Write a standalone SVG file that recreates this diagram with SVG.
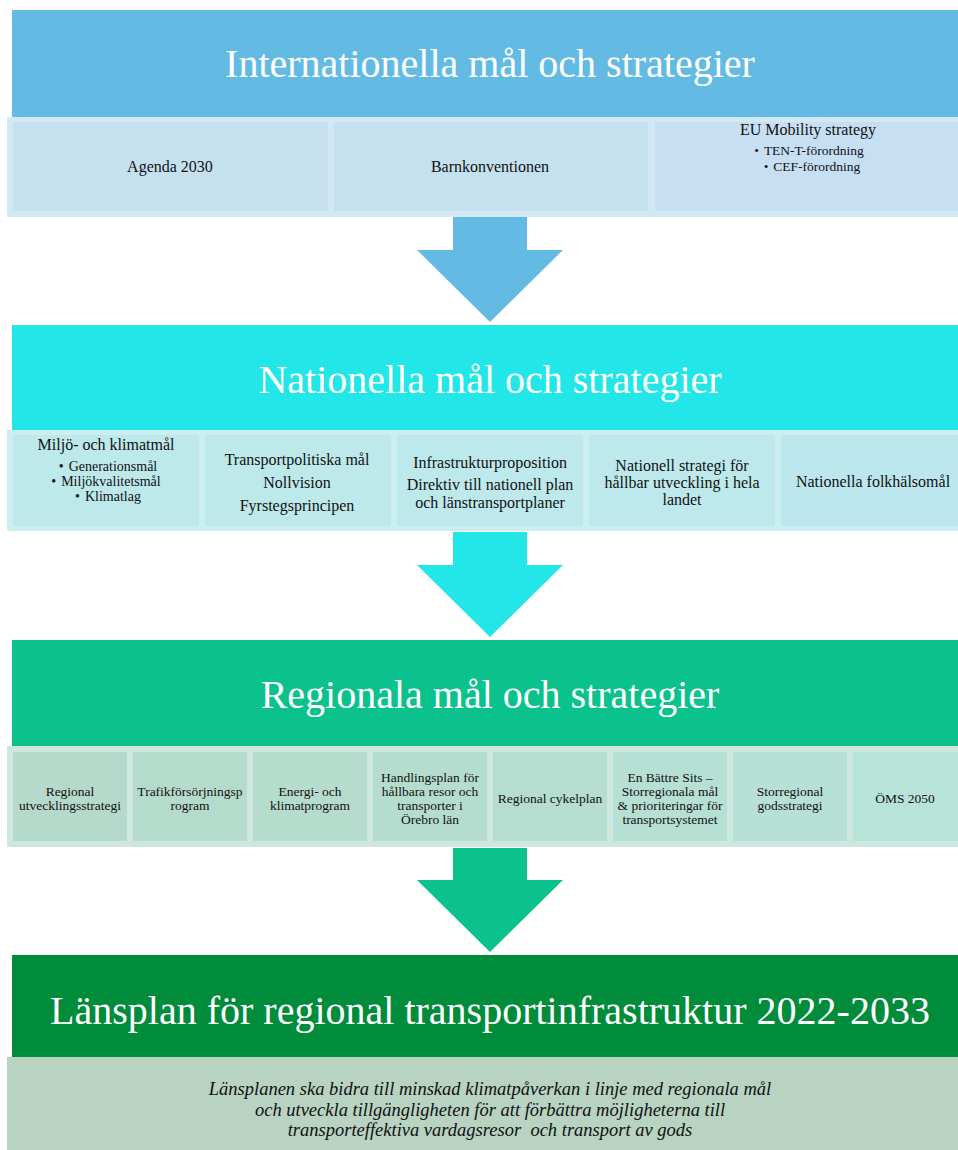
<svg xmlns="http://www.w3.org/2000/svg" width="958" height="1150" viewBox="0 0 958 1150">
<style>
  text { font-family: "Liberation Serif", "Times New Roman", serif; fill: #111; text-anchor: middle; }
  .h { fill: #fff; font-size: 40px; }
  .t1 { font-size: 16px; }
  .b1 { font-size: 13.5px; }
  .t2 { font-size: 16px; }
  .b2 { font-size: 14px; }
  .t3 { font-size: 13.5px; }
  .it { font-size: 18.5px; font-style: italic; }
</style>
<rect width="958" height="1150" fill="#fff"/>

<g id="connectors">
  <polygon points="453,217 527,217 527,250 563,250 490,322 417,250 453,250" fill="#63BBE4"/>
  <polygon points="453,532 527,532 527,565 563,565 490,637 417,565 453,565" fill="#22E6E8"/>
  <polygon points="453,848 527,848 527,880 563,880 490,952 417,880 453,880" fill="#0BC28C"/>
</g>

<g id="international">
  <rect x="12" y="10" width="946" height="108" fill="#63BBE4"/>
  <text class="h" x="490" y="77">Internationella mål och strategier</text>
  <rect x="7" y="117" width="951" height="100" fill="#D2E8F4"/>
</g>
<g id="agenda2030">
  <rect x="13" y="122" width="315" height="89" fill="#C5E1F0"/>
  <text class="t1" x="170" y="172">Agenda 2030</text>
</g>
<g id="barnkonventionen">
  <rect x="334" y="122" width="314" height="89" fill="#C5E1F0"/>
  <text class="t1" x="490" y="172">Barnkonventionen</text>
</g>
<g id="eu-mobility">
  <rect x="655" y="122" width="303" height="89" fill="#C7DFF2"/>
  <text class="t1" x="808" y="135">EU Mobility strategy</text>
  <text class="b1" x="809" y="155">•<tspan dx="5">TEN-T-förordning</tspan></text>
  <text class="b1" x="812" y="171">•<tspan dx="5">CEF-förordning</tspan></text>
</g>

<g id="national">
  <rect x="12" y="325" width="946" height="106" fill="#22E6E8"/>
  <text class="h" x="490" y="393">Nationella mål och strategier</text>
  <rect x="7" y="430" width="951" height="101" fill="#CDEEF0"/>
</g>
<g id="miljo">
  <rect x="13" y="435" width="186" height="91" fill="#BDE9EB"/>
  <text class="t2" x="106" y="450">Miljö- och klimatmål</text>
  <text class="b2" x="108" y="471">•<tspan dx="5">Generationsmål</tspan></text>
  <text class="b2" x="106" y="486">•<tspan dx="5">Miljökvalitetsmål</tspan></text>
  <text class="b2" x="108" y="501">•<tspan dx="5">Klimatlag</tspan></text>
</g>
<g id="transportpolitiska">
  <rect x="205" y="435" width="186" height="91" fill="#BDE9EB"/>
  <text class="t2" x="297" y="465">Transportpolitiska mål</text>
  <text class="t2" x="297" y="488">Nollvision</text>
  <text class="t2" x="297" y="511">Fyrstegsprincipen</text>
</g>
<g id="infrastruktur">
  <rect x="397" y="435" width="186" height="91" fill="#BDE9EC"/>
  <text class="t2" x="490" y="468">Infrastrukturproposition</text>
  <text class="t2" x="490" y="490">Direktiv till nationell plan</text>
  <text class="t2" x="490" y="508">och länstransportplaner</text>
</g>
<g id="nationell-strategi">
  <rect x="589" y="435" width="186" height="91" fill="#BDE9ED"/>
  <text class="t2" x="682" y="471">Nationell strategi för</text>
  <text class="t2" x="682" y="488">hållbar utveckling i hela</text>
  <text class="t2" x="682" y="505">landet</text>
</g>
<g id="folkhalsa">
  <rect x="781" y="435" width="177" height="91" fill="#BDE7EE"/>
  <text class="t2" x="873" y="487">Nationella folkhälsomål</text>
</g>

<g id="regional">
  <rect x="12" y="640" width="946" height="107" fill="#0BC28C"/>
  <text class="h" x="490" y="708">Regionala mål och strategier</text>
  <rect x="7" y="746" width="951" height="101" fill="#CFE8DF"/>
</g>
<g id="rus">
  <rect x="13" y="752" width="114" height="89" fill="#B5DACB"/>
  <text class="t3" x="70" y="796">Regional</text>
  <text class="t3" x="70" y="810">utvecklingsstrategi</text>
</g>
<g id="trafik">
  <rect x="133" y="752" width="114" height="89" fill="#B5DBCC"/>
  <text class="t3" x="190" y="796">Trafikförsörjningsp</text>
  <text class="t3" x="190" y="810">rogram</text>
</g>
<g id="energi">
  <rect x="253" y="752" width="114" height="89" fill="#B5DCCD"/>
  <text class="t3" x="310" y="796">Energi- och</text>
  <text class="t3" x="310" y="810">klimatprogram</text>
</g>
<g id="handlingsplan">
  <rect x="373" y="752" width="114" height="89" fill="#B5DDCF"/>
  <text class="t3" x="430" y="782">Handlingsplan för</text>
  <text class="t3" x="430" y="796">hållbara resor och</text>
  <text class="t3" x="430" y="810">transporter i</text>
  <text class="t3" x="430" y="824">Örebro län</text>
</g>
<g id="cykelplan">
  <rect x="493" y="752" width="114" height="89" fill="#B5DED1"/>
  <text class="t3" x="550" y="803">Regional cykelplan</text>
</g>
<g id="battre-sits">
  <rect x="613" y="752" width="114" height="89" fill="#B6E0D3"/>
  <text class="t3" x="670" y="782">En Bättre Sits –</text>
  <text class="t3" x="670" y="796">Storregionala mål</text>
  <text class="t3" x="670" y="810">&amp; prioriteringar för</text>
  <text class="t3" x="670" y="824">transportsystemet</text>
</g>
<g id="gods">
  <rect x="733" y="752" width="114" height="89" fill="#B7E1D6"/>
  <text class="t3" x="790" y="796">Storregional</text>
  <text class="t3" x="790" y="810">godsstrategi</text>
</g>
<g id="oms">
  <rect x="853" y="752" width="105" height="89" fill="#B8E3D9"/>
  <text class="t3" x="905" y="803">ÖMS 2050</text>
</g>

<g id="lansplan">
  <rect x="12" y="955" width="946" height="103" fill="#008C3A"/>
  <text class="h" x="490" y="1024">Länsplan för regional transportinfrastruktur 2022-2033</text>
</g>
<g id="lansplan-text">
  <rect x="7" y="1057" width="951" height="93" fill="#B8D3C2"/>
  <text class="it" x="490" y="1095">Länsplanen ska bidra till minskad klimatpåverkan i linje med regionala mål</text>
  <text class="it" x="490" y="1116">och utveckla tillgängligheten för att förbättra möjligheterna till</text>
  <text class="it" x="490" y="1136" xml:space="preserve">transporteffektiva vardagsresor  och transport av gods</text>
</g>
</svg>
